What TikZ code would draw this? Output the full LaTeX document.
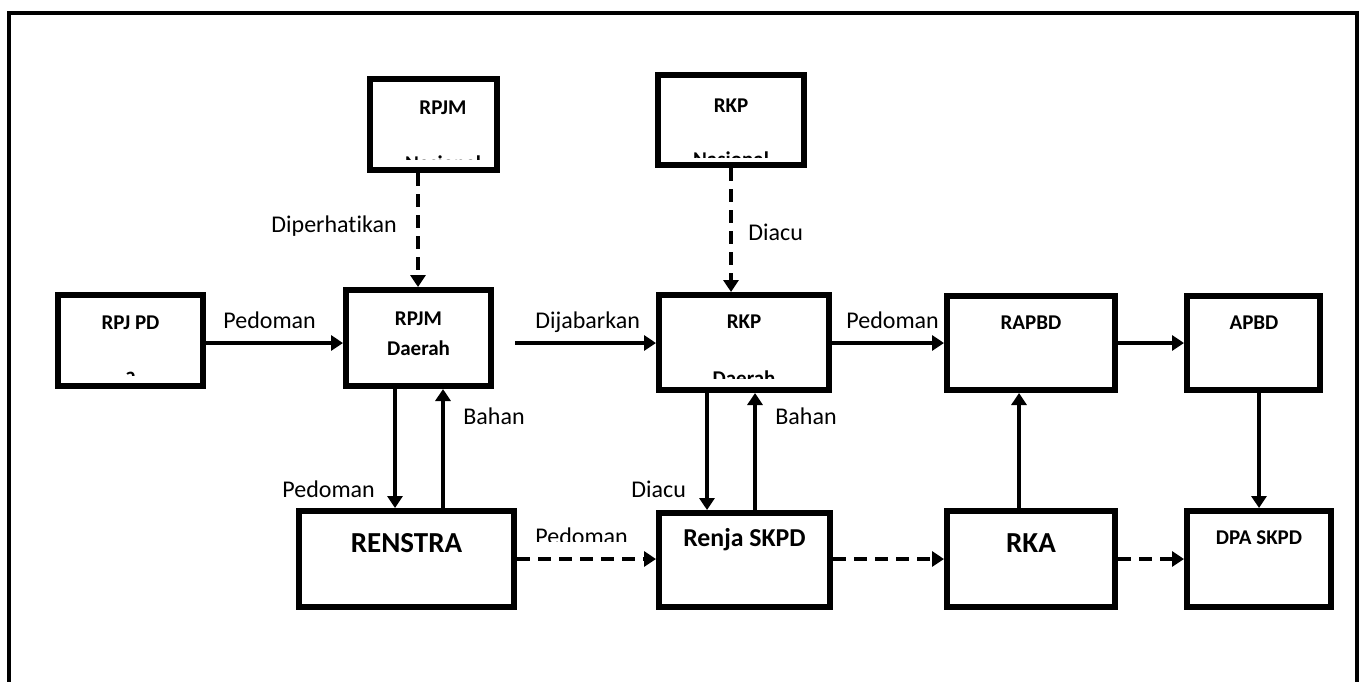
\documentclass[tikz,border=0pt]{standalone}
\usepackage{fontspec}
\setmainfont[Ligatures=NoCommon]{Carlito}
\usetikzlibrary{arrows.meta}
\tikzset{
  x=0.5pt, y=-0.5pt,
  box/.style={draw, line width=2.9pt, rectangle, inner sep=0pt, fill=white},
  arr/.style={line width=2pt, -{Triangle[length=6pt,width=7.5pt]}},
  darr/.style={arr, dash pattern=on 6.5pt off 4pt},
  lbl/.style={font=\fontsize{12}{14}\selectfont, inner sep=0pt, anchor=base west},
  btxt/.style={font=\bfseries\fontsize{10.5}{12}\selectfont, inner sep=0pt, anchor=base},
  mtxt/.style={font=\bfseries\fontsize{12.9}{14}\selectfont, inner sep=0pt, anchor=base},
  bigtxt/.style={font=\bfseries\fontsize{14.5}{16}\selectfont, inner sep=0pt, anchor=base},
}
\newcommand{\mybox}[5]{% name, l, t, r, b
  \node[box, minimum width={(#4-#2)*0.5pt-2.9pt}, minimum height={(#5-#3)*0.5pt-2.9pt}] (#1) at ({(#2+#4)/2},{(#3+#5)/2}) {};}
\begin{document}
\begin{tikzpicture}
\useasboundingbox (0,0) rectangle (1360,681);
\clip (0,0) rectangle (1360,681);
% outer frame
\draw[line width=2pt] (8.5,700) -- (8.5,12.5) -- (1357,12.5) -- (1357,700);

% boxes
\mybox{rpjpd}{55}{292}{206}{389}
\mybox{rpjmn}{367}{76}{500}{173}
\mybox{rkpn}{655}{72}{807}{168}
\mybox{rpjmd}{343}{287}{494}{389}
\mybox{rkpd}{656}{292}{832}{393}
\mybox{rapbd}{944}{293}{1118}{393}
\mybox{apbd}{1184}{293}{1323}{393}
\mybox{renstra}{296}{508}{517}{610}
\mybox{renja}{656}{510}{833}{610}
\mybox{rka}{944}{508}{1118}{610}
\mybox{dpa}{1184}{508}{1334}{610}

% box texts
\node[btxt] (t-rpjpd) at (130.5,329) {RPJ PD};
\begin{scope}\clip (60,300) rectangle (200,375);
\node[btxt] (t-rpjpd2) at (130.5,382) {a};
\end{scope}
\node[btxt] (t-rpjmn) at (443,114) {RPJM};
\begin{scope}\clip (372,80) rectangle (495,159.5);
\node[btxt] (t-rpjmn2) at (443,170) {Nasional};
\end{scope}
\node[btxt] (t-rkpn) at (731,112) {RKP};
\begin{scope}\clip (660,80) rectangle (802,157);
\node[btxt] (t-rkpn2) at (731,166) {Nasional};
\end{scope}
\node[btxt] (t-rpjmd) at (418.5,325) {RPJM};
\node[btxt] (t-rpjmd2) at (418.5,355) {Daerah};
\node[btxt] (t-rkpd) at (744,328) {RKP};
\begin{scope}\clip (661,300) rectangle (827,378);
\node[btxt] (t-rkpd2) at (744,385.5) {Daerah};
\end{scope}
\node[btxt] (t-rapbd) at (1031,329) {RAPBD};
\node[btxt] (t-apbd) at (1254,329) {APBD};
\node[bigtxt] (t-renstra) at (406.5,552) {RENSTRA};
\node[mtxt] (t-renja) at (744.5,546) {Renja SKPD};
\node[bigtxt] (t-rka) at (1031,552) {RKA};
\node[btxt] (t-dpa) at (1259,544) {DPA SKPD};

% helper coordinates
\coordinate (yrow) at (0,343);
\coordinate (ydash) at (0,559);
\coordinate (xa) at (395,0);
\coordinate (xb) at (443,0);
\coordinate (xc) at (707,0);
\coordinate (xd) at (755,0);
\coordinate (xe) at (1019,0);
\coordinate (xf) at (1259,0);
\coordinate (xg) at (418,0);
\coordinate (xh) at (731,0);
\coordinate (djs) at (515,343);

% top row arrows
\draw[arr] (rpjpd.east |- yrow) -- (rpjmd.west |- yrow);
\draw[arr] (djs) -- (rkpd.west |- djs);
\draw[arr] (rkpd.east |- yrow) -- (rapbd.west |- yrow);
\draw[arr] (rapbd.east |- yrow) -- (apbd.west |- yrow);

% dashed from top
\draw[darr] (rpjmn.south -| xg) -- (rpjmd.north -| xg);
\draw[darr] (rkpn.south -| xh) -- (rkpd.north -| xh);

% verticals
\draw[arr] (rpjmd.south -| xa) -- (renstra.north -| xa);
\draw[arr] (renstra.north -| xb) -- (rpjmd.south -| xb);
\draw[arr] (rkpd.south -| xc) -- (renja.north -| xc);
\draw[arr] (renja.north -| xd) -- (rkpd.south -| xd);
\draw[arr] (rka.north -| xe) -- (rapbd.south -| xe);
\draw[arr] (apbd.south -| xf) -- (dpa.north -| xf);

% bottom dashed
\draw[darr] (renstra.east |- ydash) -- (renja.west |- ydash);
\draw[darr] (renja.east |- ydash) -- (rka.west |- ydash);
\draw[darr] (rka.east |- ydash) -- (dpa.west |- ydash);

% labels
\node[lbl] (l-ped1) at (223,328) {Pedoman};
\node[lbl] (l-dij) at (535,328) {Dijabarkan};
\node[lbl] (l-ped2) at (846,328) {Pedoman};
\node[lbl] (l-dip) at (271,232) {Diperhatikan};
\node[lbl] (l-diacu1) at (748,240) {Diacu};
\node[lbl] (l-bahan1) at (463,424) {Bahan};
\node[lbl] (l-bahan2) at (775,424) {Bahan};
\node[lbl] (l-ped3) at (282,497) {Pedoman};
\node[lbl] (l-diacu2) at (631,497) {Diacu};
\begin{scope}\clip (520,500) rectangle (650,541.7);
\node[lbl] (l-ped4) at (535,544.5) {Pedoman};
\end{scope}
\end{tikzpicture}
\end{document}
